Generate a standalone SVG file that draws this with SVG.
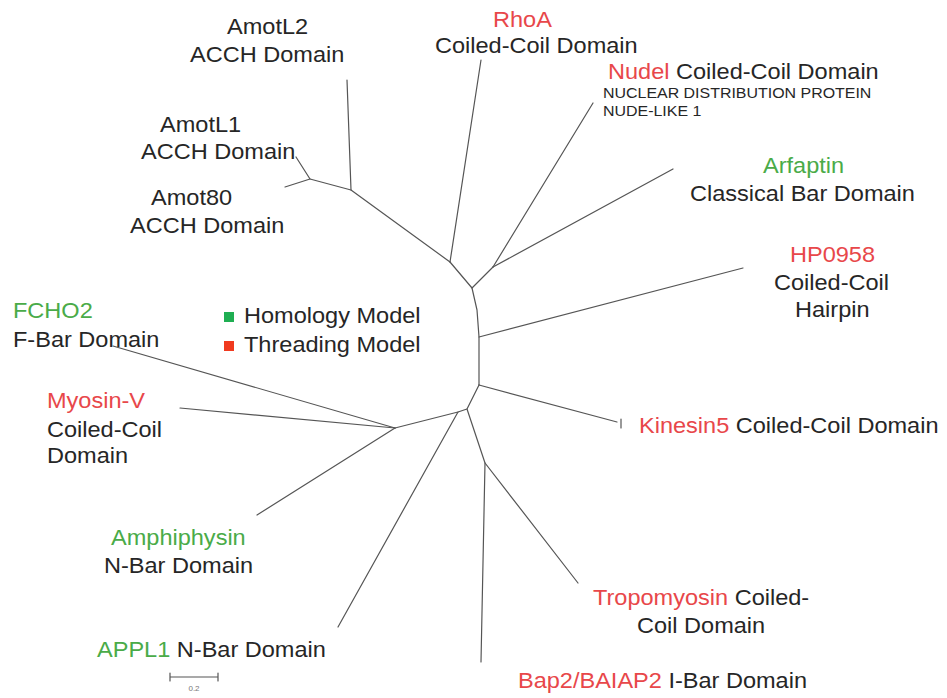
<svg xmlns="http://www.w3.org/2000/svg" width="947" height="698" viewBox="0 0 947 698">
<style>
text{font-family:"Liberation Sans",Arial,sans-serif;font-size:21.4px;fill:#262626}
.r{fill:#e8474a}
.g{fill:#4aab48}
.s{font-size:14.5px}
.sc{font-size:8px;fill:#777}
.e{stroke:#555;stroke-width:1.2;fill:none;stroke-linecap:round;stroke-linejoin:round}
</style>
<rect width="947" height="698" fill="#fff"/>
<g id="connectors" class="e">
<path d="M347 80 L351 190"/>
<path d="M296 157 L310 179 L285 187"/>
<path d="M310 179 L351 190 L450 262"/>
<path d="M450 262 L481 60"/>
<path d="M450 262 L472 288 L493 267"/>
<path d="M493 267 L593 103"/>
<path d="M493 267 L673 169"/>
<path d="M472 288 L477 310 L479 337 L479 385"/>
<path d="M479 337 L743 268"/>
<path d="M479 385 L617 422"/>
<path d="M621 419 L621 428"/>
<path d="M479 385 L467 409 L458 412 L395 428"/>
<path d="M395 428 L113 346"/>
<path d="M395 428 L180 408"/>
<path d="M395 428 L257 515"/>
<path d="M458 412 L338 627"/>
<path d="M467 409 L485 463 L481 662"/>
<path d="M485 463 L578 583"/>
<path d="M170 677 L218 677 M170 673 L170 681 M218 673 L218 681"/>
</g>
<g id="AmotL2">
<text transform="translate(227 34) scale(1.1 1)">AmotL2</text>
<text transform="translate(190 62) scale(1.1 1)">ACCH Domain</text>
</g>
<g id="AmotL1">
<text transform="translate(160 132) scale(1.1 1)">AmotL1</text>
<text transform="translate(141 159) scale(1.1 1)">ACCH Domain</text>
</g>
<g id="Amot80">
<text transform="translate(151 205) scale(1.1 1)">Amot80</text>
<text transform="translate(130 233) scale(1.1 1)">ACCH Domain</text>
</g>
<g id="RhoA">
<text class="r" transform="translate(493 27) scale(1.1 1)">RhoA</text>
<text transform="translate(435 53) scale(1.1 1)">Coiled-Coil Domain</text>
</g>
<g id="Nudel">
<text transform="translate(608 79) scale(1.1 1)"><tspan class="r">Nudel</tspan> Coiled-Coil Domain</text>
<text class="s" transform="translate(603 98) scale(1.1 1)">NUCLEAR DISTRIBUTION PROTEIN</text>
<text class="s" transform="translate(603 116) scale(1.1 1)">NUDE-LIKE 1</text>
</g>
<g id="Arfaptin">
<text class="g" transform="translate(763 173) scale(1.1 1)">Arfaptin</text>
<text transform="translate(690 201) scale(1.1 1)">Classical Bar Domain</text>
</g>
<g id="HP0958">
<text class="r" transform="translate(790 262) scale(1.1 1)">HP0958</text>
<text transform="translate(774 290) scale(1.1 1)">Coiled-Coil</text>
<text transform="translate(795 317) scale(1.1 1)">Hairpin</text>
</g>
<g id="FCHO2">
<text class="g" transform="translate(13 318) scale(1.1 1)">FCHO2</text>
<text transform="translate(13 347) scale(1.1 1)">F-Bar Domain</text>
</g>
<g id="legend">
<rect x="224" y="312" width="10" height="10" fill="#1fae52"/>
<rect x="224" y="341" width="10" height="10" fill="#f03a1f"/>
<text transform="translate(244 323) scale(1.1 1)">Homology Model</text>
<text transform="translate(244 352) scale(1.1 1)">Threading Model</text>
</g>
<g id="MyosinV">
<text class="r" transform="translate(47 408) scale(1.1 1)">Myosin-V</text>
<text transform="translate(47 437) scale(1.1 1)">Coiled-Coil</text>
<text transform="translate(47 463) scale(1.1 1)">Domain</text>
</g>
<g id="Kinesin5">
<text transform="translate(639 433) scale(1.1 1)"><tspan class="r">Kinesin5</tspan> Coiled-Coil Domain</text>
</g>
<g id="Amphiphysin">
<text class="g" transform="translate(111 545) scale(1.1 1)">Amphiphysin</text>
<text transform="translate(104 573) scale(1.1 1)">N-Bar Domain</text>
</g>
<g id="APPL1">
<text transform="translate(97 657) scale(1.1 1)"><tspan class="g">APPL1</tspan> N-Bar Domain</text>
</g>
<g id="Tropomyosin">
<text transform="translate(593 605) scale(1.1 1)"><tspan class="r">Tropomyosin</tspan> Coiled-</text>
<text transform="translate(637 633) scale(1.1 1)">Coil Domain</text>
</g>
<g id="Bap2">
<text transform="translate(518 688) scale(1.1 1)"><tspan class="r">Bap2/BAIAP2</tspan> I-Bar Domain</text>
</g>
<g id="scalebar">
<text class="sc" x="194" y="691" text-anchor="middle">0.2</text>
</g>
</svg>
